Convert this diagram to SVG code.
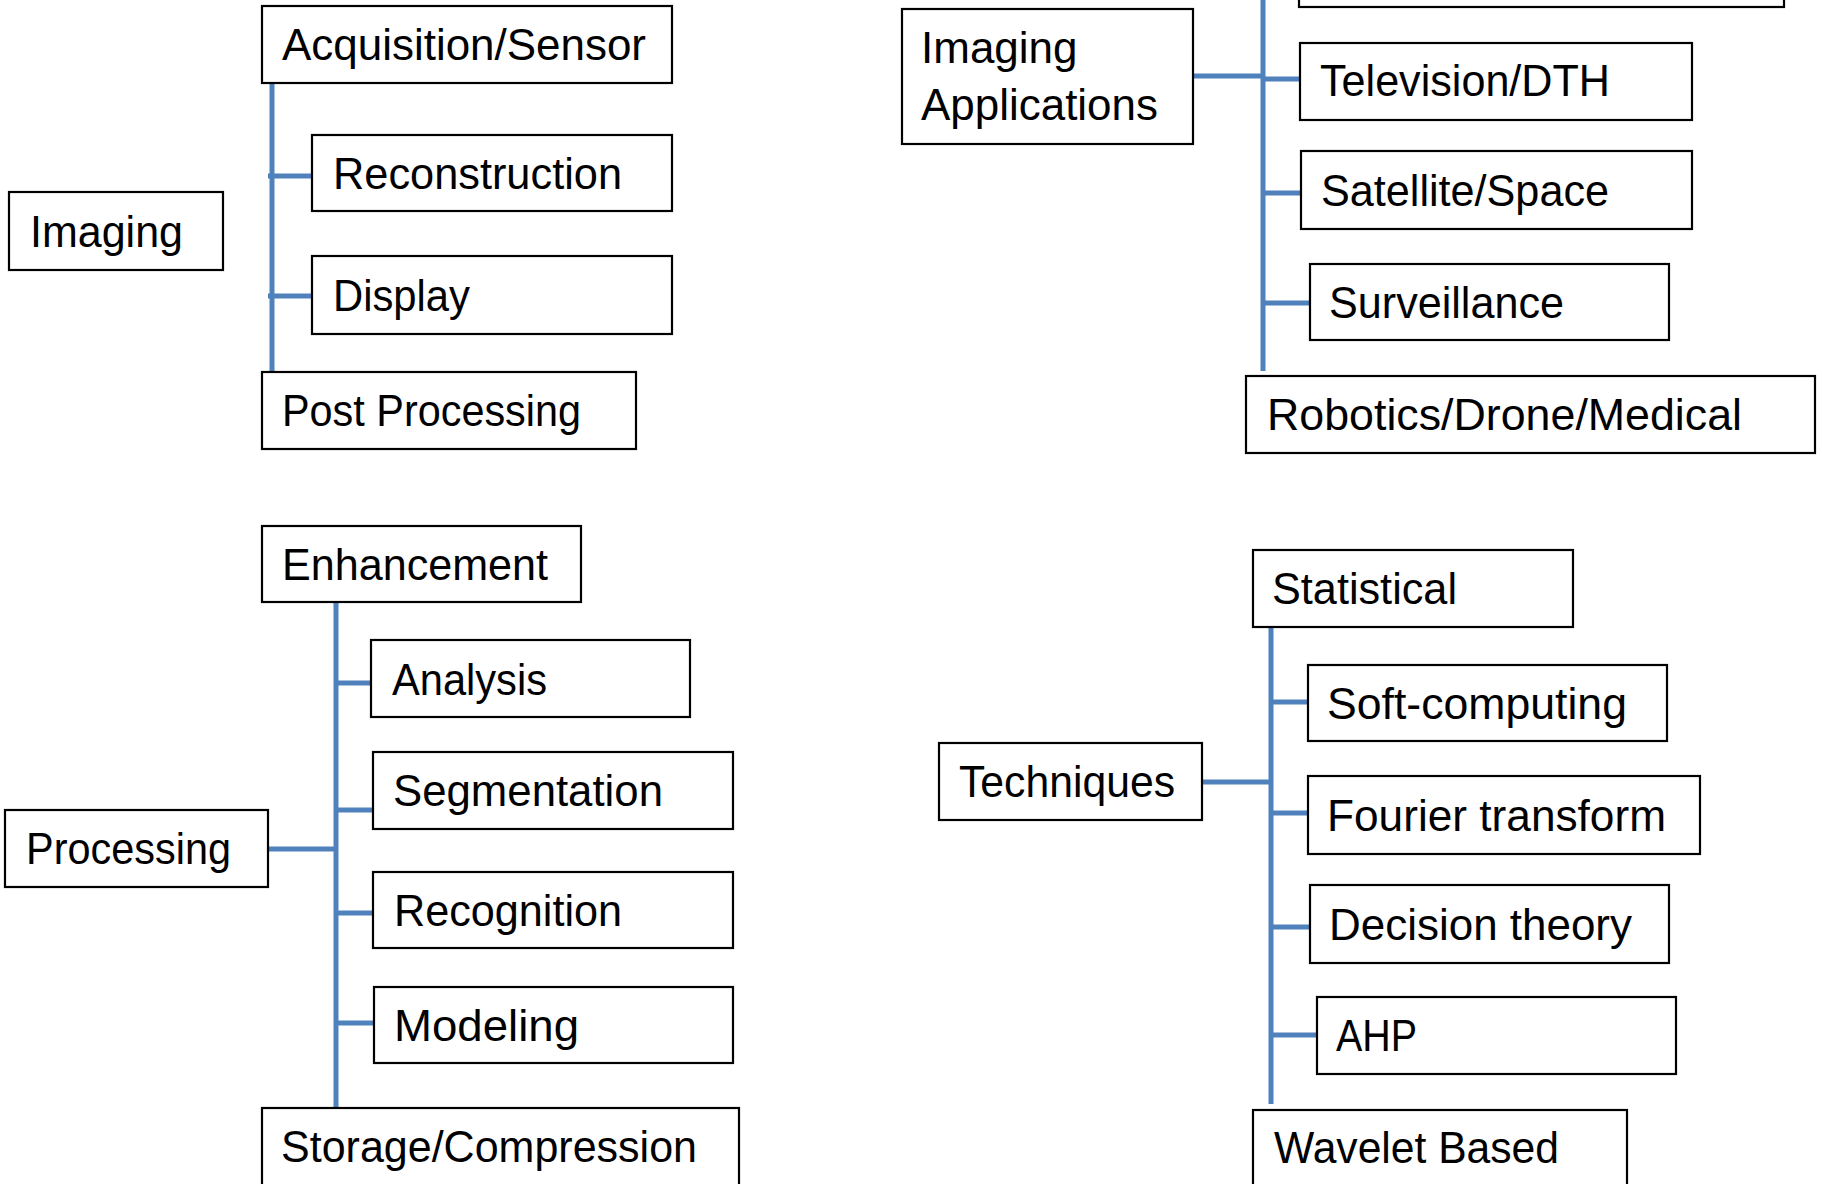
<svg xmlns="http://www.w3.org/2000/svg" width="1822" height="1184" viewBox="0 0 1822 1184">
<style>
.box{fill:#fff;stroke:#000;stroke-width:2.2}
.t{font-family:"Liberation Sans",Arial,sans-serif;font-size:44px;fill:#000}
.c{stroke:#4f81bd;stroke-width:5;fill:none}
</style>
<rect width="1822" height="1184" fill="#fff"/>
<g id="connectors">
<path class="c" d="M272,83 V371 M268,176 H311 M268,296 H311"/>
<path class="c" d="M1263,0 V371 M1193,76 H1263 M1263,79 H1300 M1263,193 H1301 M1263,303 H1310"/>
<path class="c" d="M336,602 V1107 M268,849 H336 M336,683 H371 M336,810 H373 M336,913 H373 M336,1023 H374"/>
<path class="c" d="M1271,627 V1104 M1202,782 H1271 M1271,702 H1308 M1271,813 H1308 M1271,927 H1310 M1271,1035 H1317"/>
</g>
<g id="imaging"><rect class="box" x="9" y="192" width="214" height="78"/><text class="t" x="30" y="247" textLength="153" lengthAdjust="spacingAndGlyphs">Imaging</text></g>
<g id="acquisition"><rect class="box" x="262" y="6" width="410" height="77"/><text class="t" x="282" y="60" textLength="364" lengthAdjust="spacingAndGlyphs">Acquisition/Sensor</text></g>
<g id="reconstruction"><rect class="box" x="312" y="135" width="360" height="76"/><text class="t" x="333" y="189" textLength="289" lengthAdjust="spacingAndGlyphs">Reconstruction</text></g>
<g id="display"><rect class="box" x="312" y="256" width="360" height="78"/><text class="t" x="333" y="311" textLength="137" lengthAdjust="spacingAndGlyphs">Display</text></g>
<g id="postprocessing"><rect class="box" x="262" y="372" width="374" height="77"/><text class="t" x="282" y="426" textLength="299" lengthAdjust="spacingAndGlyphs">Post Processing</text></g>

<g id="topcut"><rect class="box" x="1299" y="-80" width="485" height="87"/></g>
<g id="imagingapps"><rect class="box" x="902" y="9" width="291" height="135"/><text class="t" x="921" y="63">Imaging</text><text class="t" x="921" y="120" textLength="237" lengthAdjust="spacingAndGlyphs">Applications</text></g>
<g id="television"><rect class="box" x="1300" y="43" width="392" height="77"/><text class="t" x="1320" y="96" textLength="290" lengthAdjust="spacingAndGlyphs">Television/DTH</text></g>
<g id="satellite"><rect class="box" x="1301" y="151" width="391" height="78"/><text class="t" x="1321" y="206" textLength="288" lengthAdjust="spacingAndGlyphs">Satellite/Space</text></g>
<g id="surveillance"><rect class="box" x="1310" y="264" width="359" height="76"/><text class="t" x="1329" y="318" textLength="235" lengthAdjust="spacingAndGlyphs">Surveillance</text></g>
<g id="robotics"><rect class="box" x="1246" y="376" width="569" height="77"/><text class="t" x="1267" y="430" textLength="475" lengthAdjust="spacingAndGlyphs">Robotics/Drone/Medical</text></g>

<g id="enhancement"><rect class="box" x="262" y="526" width="319" height="76"/><text class="t" x="282" y="580" textLength="266" lengthAdjust="spacingAndGlyphs">Enhancement</text></g>
<g id="analysis"><rect class="box" x="371" y="640" width="319" height="77"/><text class="t" x="392" y="695" textLength="155" lengthAdjust="spacingAndGlyphs">Analysis</text></g>
<g id="segmentation"><rect class="box" x="373" y="752" width="360" height="77"/><text class="t" x="393" y="806" textLength="270" lengthAdjust="spacingAndGlyphs">Segmentation</text></g>
<g id="processing"><rect class="box" x="5" y="810" width="263" height="77"/><text class="t" x="26" y="864" textLength="205" lengthAdjust="spacingAndGlyphs">Processing</text></g>
<g id="recognition"><rect class="box" x="373" y="872" width="360" height="76"/><text class="t" x="394" y="926" textLength="228" lengthAdjust="spacingAndGlyphs">Recognition</text></g>
<g id="modeling"><rect class="box" x="374" y="987" width="359" height="76"/><text class="t" x="394" y="1041" textLength="185" lengthAdjust="spacingAndGlyphs">Modeling</text></g>
<g id="storage"><rect class="box" x="262" y="1108" width="477" height="90"/><text class="t" x="281" y="1162" textLength="416" lengthAdjust="spacingAndGlyphs">Storage/Compression</text></g>

<g id="statistical"><rect class="box" x="1253" y="550" width="320" height="77"/><text class="t" x="1272" y="604" textLength="185" lengthAdjust="spacingAndGlyphs">Statistical</text></g>
<g id="softcomputing"><rect class="box" x="1308" y="665" width="359" height="76"/><text class="t" x="1327" y="719" textLength="300" lengthAdjust="spacingAndGlyphs">Soft-computing</text></g>
<g id="techniques"><rect class="box" x="939" y="743" width="263" height="77"/><text class="t" x="959" y="797" textLength="216" lengthAdjust="spacingAndGlyphs">Techniques</text></g>
<g id="fourier"><rect class="box" x="1308" y="776" width="392" height="78"/><text class="t" x="1327" y="831" textLength="339" lengthAdjust="spacingAndGlyphs">Fourier transform</text></g>
<g id="decision"><rect class="box" x="1310" y="885" width="359" height="78"/><text class="t" x="1329" y="940" textLength="303" lengthAdjust="spacingAndGlyphs">Decision theory</text></g>
<g id="ahp"><rect class="box" x="1317" y="997" width="359" height="77"/><text class="t" x="1336" y="1051" textLength="81" lengthAdjust="spacingAndGlyphs">AHP</text></g>
<g id="wavelet"><rect class="box" x="1253" y="1110" width="374" height="90"/><text class="t" x="1274" y="1163" textLength="285" lengthAdjust="spacingAndGlyphs">Wavelet Based</text></g>
</svg>
